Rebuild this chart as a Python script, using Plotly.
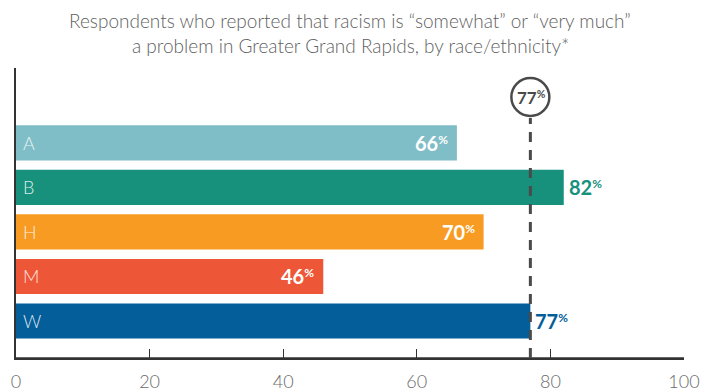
import plotly.graph_objects as go

categories = ["A", "B", "H", "M", "W"]
values = [66, 82, 70, 46, 77]
colors = ["#7fbdc7", "#17917c", "#f89b23", "#ee5638", "#035e9a"]
inside_label = [True, False, True, True, False]
overall = 77
x_ticks = [0, 20, 40, 60, 80, 100]
title_lines = ["Respondents who reported that racism is “somewhat” or “very much”",
               "a problem in Greater Grand Rapids, by race/ethnicity*"]

FONT = "Lato"

fig = go.Figure()
fig.add_trace(go.Bar(
    y=categories, x=values, orientation="h",
    marker=dict(color=colors, line=dict(width=0)),
    width=0.79, hoverinfo="skip",
))

for cat, val, col, ins in zip(categories, values, colors, inside_label):
    label = f"<b>{val}<span style='font-size:17px'><sup>%</sup></span></b>"
    fig.add_annotation(
        x=val, y=cat, text=label, showarrow=False,
        xanchor="right" if ins else "left", yanchor="middle",
        xshift=-7 if ins else 3,
        font=dict(family=FONT, size=20, color="white" if ins else col),
    )
    fig.add_annotation(
        x=0, y=cat, text=cat, showarrow=False, xanchor="left", yanchor="middle",
        xshift=5,
        font=dict(family=FONT, size=18, color="rgba(255,255,255,0.85)", weight=300),
    )

# title lines
for ty, line in zip([1.1655, 1.079], title_lines):
    fig.add_annotation(x=0.5, y=ty, xref="paper", yref="paper", text=line,
                       showarrow=False, xanchor="center", yanchor="middle",
                       font=dict(family=FONT, size=19, color="#5f5f5f", weight=300))

# bottom axis line (explicit, drawn over plot)
fig.add_shape(type="line", xref="paper", yref="paper", x0=0, x1=1, y0=0, y1=0,
              line=dict(color="#333", width=1.5), layer="above")

# dashed reference line
fig.add_shape(type="line", xref="x", yref="paper", x0=overall, x1=overall,
              y0=0, y1=0.828, line=dict(color="#4a4a4a", width=3, dash="10px,8px"),
              layer="above")
fig.add_shape(type="circle", xref="x", yref="paper", xsizemode="pixel", ysizemode="pixel",
              xanchor=overall, yanchor=0.9, x0=-19, x1=19, y0=-19, y1=19,
              line=dict(color="#4a4a4a", width=2.5), fillcolor="white", layer="above")
fig.add_annotation(x=overall, y=0.9, xref="x", yref="paper",
                   text=f"<b>{overall}<span style='font-size:15px'><sup>%</sup></span></b>",
                   showarrow=False, xanchor="center", yanchor="middle",
                   font=dict(family=FONT, size=17, color="#4a4a4a"), xshift=1)

fig.update_layout(
    width=715, height=392,
    margin=dict(l=16, r=31, t=68, b=34, autoexpand=False),
    paper_bgcolor="white", plot_bgcolor="white",
    showlegend=False,
    xaxis=dict(range=[0, 100], tickvals=x_ticks, ticks="inside", ticklen=9,
               tickcolor="#333", tickwidth=1.2, showgrid=False, zeroline=False,
               showline=True, linecolor="#333", linewidth=1.5,
               automargin=False, ticklabelstandoff=7,
               tickfont=dict(family=FONT, size=18, color="#6b6b6b", weight=300)),
    yaxis=dict(categoryorder="array", categoryarray=categories[::-1],
               range=[-0.83, 5.68], showticklabels=False, ticks="",
               showgrid=False, zeroline=False, showline=True, automargin=False,
               linecolor="#333", linewidth=1.5),
)

fig.write_html("out.html", config={"displayModeBar": False},
               post_script="document.body.style.margin='0';")
